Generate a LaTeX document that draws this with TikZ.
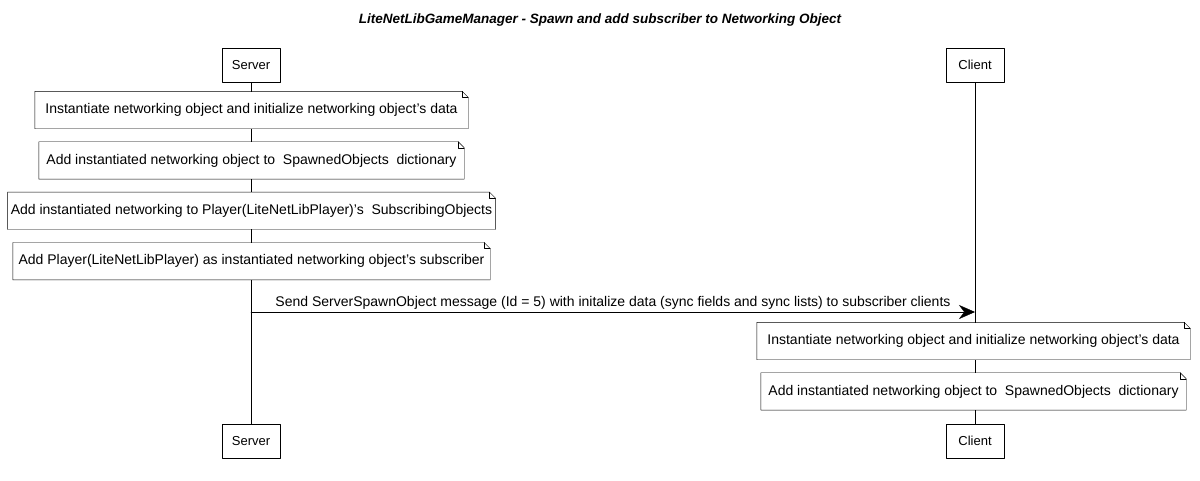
\documentclass[tikz,border=0pt]{standalone}
\usepackage{fontspec}
\setmainfont{Liberation Sans}
\usetikzlibrary{positioning,arrows.meta}
\begin{document}
\begin{tikzpicture}[x=1pt,y=-1pt,line join=round,line cap=round,font=\fontsize{14}{16}\selectfont,
    actor/.style={draw,fill=white,minimum width=58pt,minimum height=34pt,inner sep=2pt,font=\fontsize{13}{15}\selectfont},
    notebox/.style={fill=white,minimum height=37pt,inner sep=3pt},
    node distance=13pt]
    \useasboundingbox (0,0) rectangle (1200,480);
    %Title
    \node[font=\fontsize{13.5}{15}\selectfont] (title) at (600,20) {\bfseries\itshape LiteNetLibGameManager - Spawn and add subscriber to Networking Object};
    %Participants
    \node[actor] (srvtop) at (251,65) {Server};
    \node[actor] (clitop) at (975,65) {Client};
    \node[actor] (srvbot) at (251,441) {Server};
    \node[actor] (clibot) at (975,441) {Client};
    %Lifelines
    \draw (srvtop) -- (srvbot);
    \draw (clitop) -- (clibot);
    %Server notes
    \node[notebox,minimum width=433pt] (sn1) at (251.5,110) {Instantiate networking object and initialize networking object's data};
    \node[notebox,minimum width=425pt,below=of sn1] (sn2) {Add instantiated networking object to\ \ SpawnedObjects\ \ dictionary};
    \node[notebox,minimum width=486pt,below=of sn2] (sn3) {Add instantiated networking to Player(LiteNetLibPlayer)'s\ \ SubscribingObjects};
    \node[notebox,minimum width=477pt,below=of sn3] (sn4) {Add Player(LiteNetLibPlayer) as instantiated networking object's subscriber};
    %Message
    \coordinate (msgstart) at (251,312);
    \coordinate (msgend) at (975,312);
    \draw[-{Stealth[length=16pt,width=14pt]}] (msgstart) -- node[above,yshift=-1pt]{Send ServerSpawnObject message (Id = 5) with initalize data (sync fields and sync lists) to subscriber clients} (msgend);
    %Client notes
    \node[notebox,minimum width=433pt] (cn1) at (973.5,341) {Instantiate networking object and initialize networking object's data};
    \node[notebox,minimum width=425pt,below=of cn1] (cn2) {Add instantiated networking object to\ \ SpawnedObjects\ \ dictionary};
    %Note outlines
    \foreach \n in {sn1,sn2,sn3,sn4,cn1,cn2}{
        \draw (\n.south west) -- (\n.south east) -- ([yshift=-6pt]\n.north east) -- ([xshift=-6pt]\n.north east) -- (\n.north west) -- cycle;
        \draw ([xshift=-6pt]\n.north east) -- ([xshift=-6pt,yshift=-6pt]\n.north east) -- ([yshift=-6pt]\n.north east);
    }
\end{tikzpicture}
\end{document}
